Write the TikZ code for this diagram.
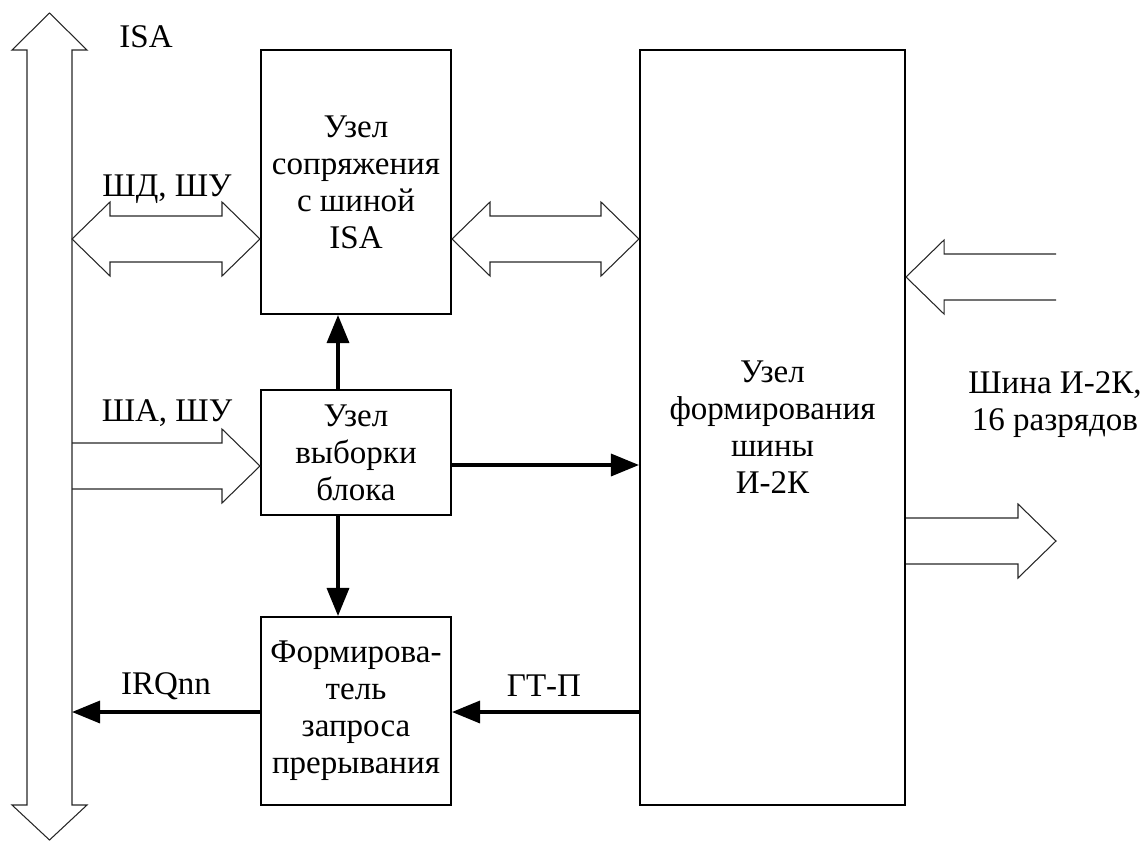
\documentclass[tikz,border=0pt]{standalone}
\usepackage{fontspec}
\setmainfont{Liberation Serif}
\usetikzlibrary{arrows.meta,calc}
\tikzset{unit/.style={draw, line width=1.4pt, inner sep=0pt, align=center,
      font=\fontsize{23.5}{26.3}\selectfont},
  lbl/.style={inner sep=0pt, align=center, font=\fontsize{23.5}{26.3}\selectfont},
  sig/.style={line width=2.4pt, -{Triangle[length=0.7cm,width=0.55cm]}},
  wide/.style={draw=black!85, line width=0.75pt, line join=miter}}
\newcommand{\rblock}[2]{\draw[wide] ($(#1)+(0,-23)$) -- ($(#2)+(-38,-23)$) -- ($(#2)+(-38,-37)$) -- (#2)
    -- ($(#2)+(-38,37)$) -- ($(#2)+(-38,23)$) -- ($(#1)+(0,23)$);}
\newcommand{\lblock}[2]{\draw[wide] ($(#1)+(0,-23)$) -- ($(#2)+(38,-23)$) -- ($(#2)+(38,-37)$) -- (#2)
    -- ($(#2)+(38,37)$) -- ($(#2)+(38,23)$) -- ($(#1)+(0,23)$);}
\newcommand{\dblock}[2]{\draw[wide] (#1) -- ($(#1)+(38,-37)$) -- ($(#1)+(38,-23)$) -- ($(#2)+(-38,-23)$)
    -- ($(#2)+(-38,-37)$) -- (#2) -- ($(#2)+(-38,37)$) -- ($(#2)+(-38,23)$) -- ($(#1)+(38,23)$)
    -- ($(#1)+(38,37)$) -- cycle;}

\begin{document}
\begin{tikzpicture}[x=0.025cm,y=-0.025cm]
    \useasboundingbox (0,0) rectangle (1142,841);
    % ISA bus
    \draw[wide] (49.5,13) -- (87,50) -- (72,50) -- (72,805) -- (87,805) -- (49.5,840)
      -- (12,805) -- (27,805) -- (27,50) -- (12,50) -- cycle;
    \node[lbl] (isal) at (146,37) {ISA};

    \node[unit, minimum width=4.75cm, minimum height=6.6cm] (isa) at (356,182) {Узел\\сопряжения\\с шиной\\ISA};
    \node[unit, minimum width=4.75cm, minimum height=3.125cm] (sel) at (356,452.5) {Узел\\выборки\\блока};
    \node[unit, minimum width=4.75cm, minimum height=4.7cm] (irq) at (356,711) {Формирова-\\тель\\запроса\\прерывания};
    \node[unit, minimum width=6.625cm, minimum height=18.875cm] (big) at (772.5,427.5) {Узел\\формирования\\шины\\И-2К};

    \coordinate (bd) at (72,239);
    \coordinate (ba) at (72,466);
    \coordinate (bi) at (72,712);
    \coordinate (inp) at (1056,277);
    \coordinate (outp) at (1056,541);

    \dblock{bd}{isa.west |- bd}
    \dblock{isa.east |- bd}{big.west |- bd}
    \rblock{ba}{sel.west |- ba}
    \lblock{inp}{big.east |- inp}
    \rblock{big.east |- outp}{outp}

    \node[lbl] (shd) at (167,189) {ШД, ШУ};
    \node[lbl] (sha) at (167,413) {ША, ШУ};
    \node[lbl] (i2k) at (1055,405) {Шина И-2К,\\16 разрядов};

    \draw[sig] ($(sel.north)+(-18,0)$) -- ($(isa.south)+(-18,0)$);
    \draw[sig] ($(sel.south)+(-18,0)$) -- ($(irq.north)+(-18,0)$);
    \draw[sig] (sel.east |- 0,465) -- (big.west |- 0,465);
    \draw[sig] (irq.west |- bi) -- (bi);
    \draw[sig] (big.west |- bi) -- (irq.east |- bi);
    \node[lbl] (irql) at (166,686) {IRQnn};
    \node[lbl] (gtp) at (544,686) {ГТ-П};
\end{tikzpicture}
\end{document}
